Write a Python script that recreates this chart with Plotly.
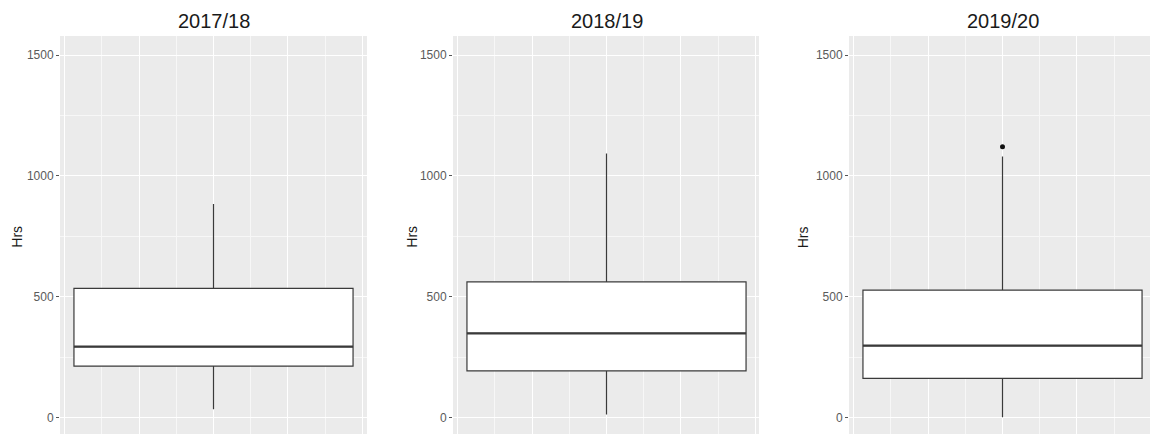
import plotly.graph_objects as go

# Five-number summaries of annual hours per season
seasons = ["2017/18", "2018/19", "2019/20"]
lower_whisker = [35, 14, 2]
q1_vals = [214, 194, 163]
median_vals = [294, 349, 298]
q3_vals = [535, 562, 528]
upper_whisker = [884, 1093, 1080]
# Points beyond the whiskers, per season
outliers = [[], [], [1121]]

W, H = 1150, 434
BOX_WIDTH = 0.75
X_SPAN = 0.825          # full x span of a panel (box width plus 5% padding each side)
PANEL_W = 307           # nominal panel width in px
Y_RANGE = [-67, 1578.6]
LINE = "#3a3a3a"
FONT = "Liberation Sans, Arial, sans-serif"

# Panel extents in pixels (left, right); the last one runs off the page edge
panels_px = [(60, 367), (453, 759), (849, 1150)]
ylabel_px = [16.7, 411.7, 803.3]

fig = go.Figure()
for i, name in enumerate(seasons):
    ax = "" if i == 0 else str(i + 1)
    xa, ya = "x" + ax, "y" + ax
    fig.add_trace(go.Box(
        x=[0], q1=[q1_vals[i]], median=[median_vals[i]], q3=[q3_vals[i]],
        lowerfence=[lower_whisker[i]], upperfence=[upper_whisker[i]],
        width=BOX_WIDTH, whiskerwidth=0, fillcolor="white",
        line=dict(color=LINE, width=1.2), boxpoints=False,
        xaxis=xa, yaxis=ya, showlegend=False, hoverinfo="skip",
    ))
    # heavier median stroke across the box
    fig.add_trace(go.Scatter(
        x=[-BOX_WIDTH / 2, BOX_WIDTH / 2], y=[median_vals[i]] * 2,
        mode="lines", line=dict(color=LINE, width=2.2),
        xaxis=xa, yaxis=ya, showlegend=False, hoverinfo="skip",
    ))
    if outliers[i]:
        fig.add_trace(go.Scatter(
            x=[0] * len(outliers[i]), y=outliers[i], mode="markers",
            marker=dict(color="#111111", size=5),
            xaxis=xa, yaxis=ya, showlegend=False, hoverinfo="skip",
        ))

    l, r = panels_px[i]
    x0 = -X_SPAN / 2
    x_range = [x0, x0 + X_SPAN * (r - l) / PANEL_W]
    fig.layout["xaxis" + ax] = dict(
        domain=[l / W, r / W], range=x_range, anchor=ya,
        showgrid=True, gridcolor="white", gridwidth=1.1,
        tick0=0, dtick=0.2, showticklabels=False, ticks="",
        minor=dict(showgrid=True, gridcolor="#f7f7f7", gridwidth=0.6, dtick=0.1, tick0=0),
        zeroline=False, showline=False, fixedrange=True,
    )
    fig.layout["yaxis" + ax] = dict(
        domain=[0, 1], range=Y_RANGE, anchor=xa,
        tickvals=[0, 500, 1000, 1500], ticktext=["0", "500", "1000", "1500"],
        showgrid=True, gridcolor="white", gridwidth=1.1,
        minor=dict(showgrid=True, gridcolor="#f7f7f7", gridwidth=0.6,
                   tickvals=[250, 750, 1250]),
        ticks="outside", ticklen=3, tickcolor="#555555", tickwidth=1,
        tickfont=dict(size=12, color="#5a5a5a", family=FONT),
        zeroline=False, showline=False, fixedrange=True,
    )

    cx = (l + PANEL_W / 2) / W
    fig.add_annotation(
        text=name, x=cx, y=1 + (36 - 21) / (H - 36), xref="paper", yref="paper",
        xanchor="center", yanchor="middle", showarrow=False,
        font=dict(size=20, color="#1a1a1a", family=FONT),
    )
    fig.add_annotation(
        text="Hrs", x=ylabel_px[i] / W, y=(434 - 237) / (H - 36), xref="paper", yref="paper",
        xanchor="center", yanchor="middle", showarrow=False, textangle=-90,
        font=dict(size=14, color="#1a1a1a", family=FONT),
    )

fig.update_layout(
    width=W, height=H, margin=dict(l=0, r=0, t=36, b=0),
    paper_bgcolor="white", plot_bgcolor="#EBEBEB",
)

fig.write_html("out.html")
